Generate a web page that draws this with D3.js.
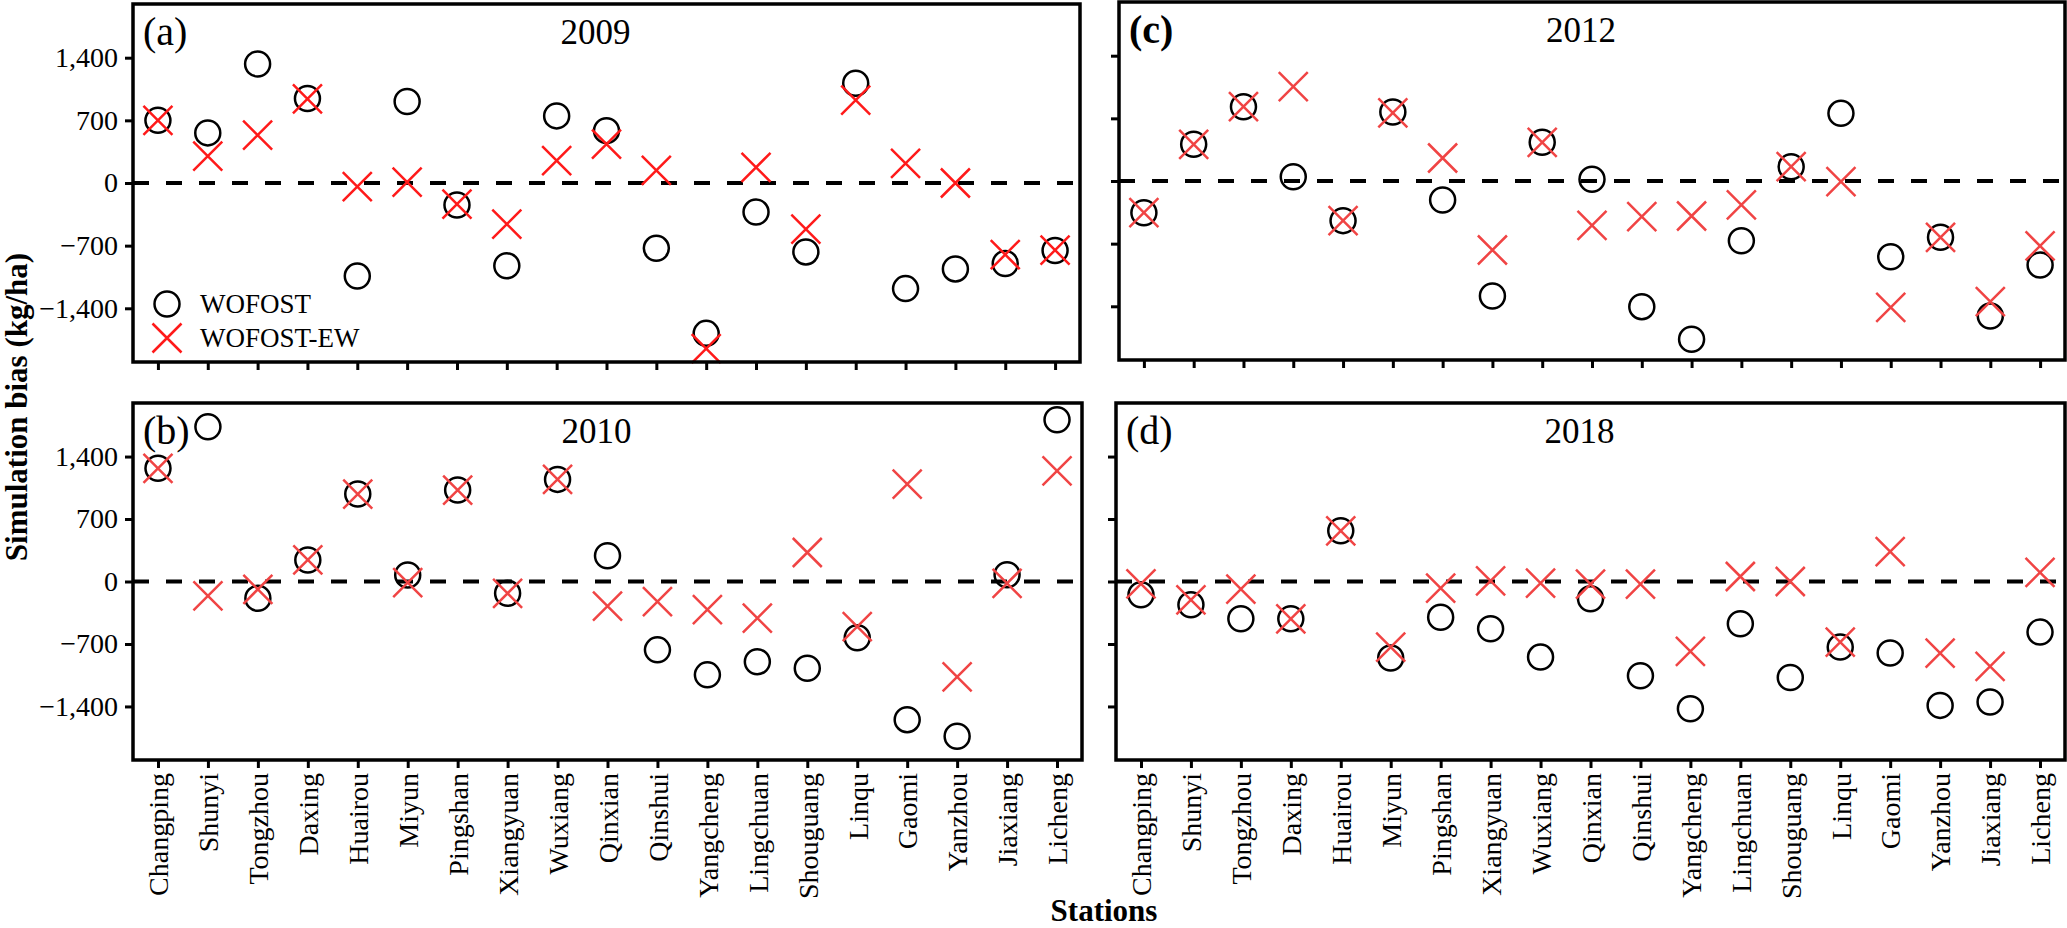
<!DOCTYPE html>
<html>
<head>
<meta charset="utf-8">
<script src="https://cdn.jsdelivr.net/npm/d3@7"></script>
<style>
  html, body { margin: 0; padding: 0; background: #fff; }
  svg { display: block; font-family: "Liberation Serif", "Times New Roman", serif; }
</style>
</head>
<body>
<svg id="chart" width="2067" height="928"></svg>
<script>
// ---------------- data ----------------
const stations = ["Changping","Shunyi","Tongzhou","Daxing","Huairou","Miyun","Pingshan","Xiangyuan","Wuxiang","Qinxian","Qinshui","Yangcheng","Lingchuan","Shouguang","Linqu","Gaomi","Yanzhou","Jiaxiang","Licheng"];
const yTicks = [-1400, -700, 0, 700, 1400];
const seriesNames = ["WOFOST", "WOFOST-EW"];

const wofost2009 = [700, 560, 1330, 945, -1040, 910, -245, -925, 750, 585, -730, -1680, -325, -770, 1115, -1180, -960, -900, -755];
const ew2009     = [700, 300, 535, 940, -40, 10, -235, -460, 250, 435, 140, -1850, 175, -515, 925, 220, 0, -800, -750];

const wofost2010 = [1268, 1734, -188, 241, 980, 73, 1025, -132, 1144, 289, -766, -1046, -899, -972, -630, -1548, -1733, 75, 1813];
const ew2010     = [1268, -162, -87, 241, 980, -13, 1025, -132, 1144, -276, -225, -316, -411, 325, -506, 1090, -1068, -20, 1240];

const wofost2012 = [-354, 410, 830, 48, -443, 771, -212, -1285, 432, 20, -1404, -1769, -667, 160, 756, -846, -629, -1508, -939];
const ew2012     = [-354, 410, 830, 1054, -443, 760, 257, -771, 432, -496, -399, -391, -268, 160, -8, -1412, -629, -1348, -726];

const wofost2018 = [-149, -261, -418, -418, 568, -858, -400, -530, -847, -194, -1056, -1425, -474, -1075, -735, -802, -1388, -1351, -567];
const ew2018     = [-26, -205, -85, -418, 568, -735, -74, 8, -18, -29, -29, -784, 56, 0, -679, 336, -802, -952, 101];

// ---------------- layout ----------------
const panels = [
  {tag: "(a)", year: "2009", w: wofost2009, e: ew2009, x0: 133, x1: 1080, y0: 4,   y1: 362, yLabels: true,  xLabels: false, legend: true,  crossColor: "#ff1a1a", tagBold: false},
  {tag: "(b)", year: "2010", w: wofost2010, e: ew2010, x0: 133, x1: 1082, y0: 403, y1: 760, yLabels: true,  xLabels: true,  legend: false, crossColor: "#f04444", tagBold: false},
  {tag: "(c)", year: "2012", w: wofost2012, e: ew2012, x0: 1119, x1: 2065, y0: 2,  y1: 360, yLabels: false, xLabels: false, legend: false, crossColor: "#f04444", tagBold: true},
  {tag: "(d)", year: "2018", w: wofost2018, e: ew2018, x0: 1116, x1: 2065, y0: 403, y1: 760, yLabels: false, xLabels: true, legend: false, crossColor: "#f04444", tagBold: false}
];

const svg = d3.select("#chart");
const fmt = d3.format(",");
const R = 12.5, C = 14.5;

function crossPath(cx, cy) {
  return `M${cx - C},${cy - C}L${cx + C},${cy + C}M${cx - C},${cy + C}L${cx + C},${cy - C}`;
}

panels.forEach(p => {
  const x = d3.scalePoint().domain(stations).range([p.x0, p.x1]).padding(0.5);
  const y = d3.scaleLinear().domain([-2000, 2000]).range([p.y1, p.y0]);
  const g = svg.append("g");

  // y axis
  const ya = g.append("g").attr("transform", `translate(${p.x0},0)`)
    .call(d3.axisLeft(y).tickValues(yTicks).tickSize(8).tickPadding(7)
      .tickFormat(d => p.yLabels ? fmt(d) : ""));
  ya.select(".domain").remove();
  ya.selectAll("line").attr("stroke", "#000").attr("stroke-width", 3);
  ya.selectAll("text").attr("font-size", 28).attr("fill", "#000")
    .attr("font-family", "'Liberation Serif', 'Times New Roman', serif");

  // x axis
  const xa = g.append("g").attr("transform", `translate(0,${p.y1})`)
    .call(d3.axisBottom(x).tickSize(8).tickPadding(13)
      .tickFormat(d => p.xLabels ? d : ""));
  xa.select(".domain").remove();
  xa.selectAll("line").attr("stroke", "#000").attr("stroke-width", 3);
  xa.selectAll("text")
    .attr("font-size", 28).attr("fill", "#000")
    .attr("font-family", "'Liberation Serif', 'Times New Roman', serif")
    .attr("text-anchor", "end")
    .attr("transform", "rotate(-90)")
    .attr("x", -13).attr("y", 0).attr("dy", "0.35em");

  // zero dashed line
  g.append("line")
    .attr("x1", p.x0).attr("x2", p.x1)
    .attr("y1", y(0)).attr("y2", y(0))
    .attr("stroke", "#000").attr("stroke-width", 4)
    .attr("stroke-dasharray", "16,17");

  // WOFOST circles
  g.append("g").selectAll("circle").data(p.w).join("circle")
    .attr("cx", (d, i) => x(stations[i]))
    .attr("cy", d => y(d))
    .attr("r", R)
    .attr("fill", "none").attr("stroke", "#000").attr("stroke-width", 2.5);

  // WOFOST-EW crosses
  g.append("g").selectAll("path").data(p.e).join("path")
    .attr("d", (d, i) => crossPath(x(stations[i]), y(d)))
    .attr("fill", "none").attr("stroke", p.crossColor).attr("stroke-width", 2.5);

  // frame
  g.append("rect")
    .attr("x", p.x0).attr("y", p.y0)
    .attr("width", p.x1 - p.x0).attr("height", p.y1 - p.y0)
    .attr("fill", "none").attr("stroke", "#000").attr("stroke-width", 3.5);

  // panel tag
  g.append("text")
    .attr("x", p.x0 + 10).attr("y", p.y0 + 41)
    .attr("font-size", 40)
    .attr("font-weight", p.tagBold ? "bold" : "normal")
    .text(p.tag);

  // year title
  g.append("text")
    .attr("x", (p.x0 + p.x1) / 2 - 11).attr("y", p.y0 + 40)
    .attr("text-anchor", "middle")
    .attr("font-size", 35)
    .text(p.year);

  // legend
  if (p.legend) {
    const lx = p.x0 + 34;
    const ly = [p.y0 + 300, p.y0 + 334];
    g.append("circle").attr("cx", lx).attr("cy", ly[0]).attr("r", R)
      .attr("fill", "none").attr("stroke", "#000").attr("stroke-width", 2.5);
    g.append("path").attr("d", crossPath(lx, ly[1]))
      .attr("fill", "none").attr("stroke", p.crossColor).attr("stroke-width", 2.5);
    seriesNames.forEach((s, i) => {
      g.append("text").attr("x", lx + 33).attr("y", ly[i]).attr("dy", "0.33em")
        .attr("font-size", 27).text(s);
    });
  }
});

// axis titles
svg.append("text")
  .attr("transform", "translate(27,407) rotate(-90)")
  .attr("text-anchor", "middle")
  .attr("font-size", 31).attr("font-weight", "bold")
  .text("Simulation bias (kg/ha)");

svg.append("text")
  .attr("x", 1104).attr("y", 921)
  .attr("text-anchor", "middle")
  .attr("font-size", 31).attr("font-weight", "bold")
  .text("Stations");
</script>
</body>
</html>
